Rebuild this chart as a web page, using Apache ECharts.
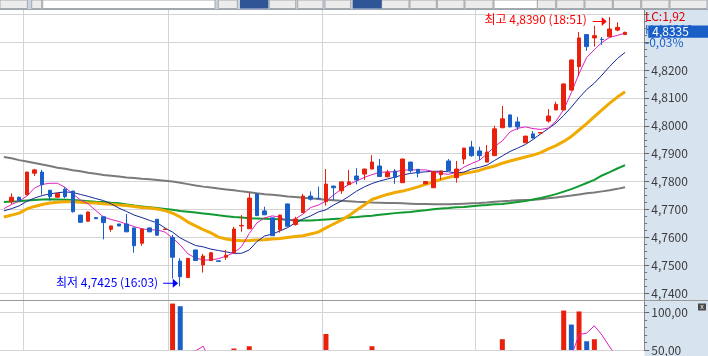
<!DOCTYPE html>
<html><head><meta charset="utf-8">
<script src="https://cdn.jsdelivr.net/npm/echarts@6/dist/echarts.min.js"></script>
<style>html,body{margin:0;padding:0;background:#fff;overflow:hidden}#c{width:708px;height:356px}</style>
</head><body><div id="c"></div>
<script>
const categories = ['14:51','14:54','14:57','15:00','15:03','15:06','15:09','15:12','15:15','15:18','15:21','15:24','15:27','15:30','15:33','15:36','15:39','15:42','15:45','15:48','15:51','15:54',
'16:00','16:03','16:06','16:09','16:12','16:15','16:18','16:21','16:24','16:27','16:30','16:33','16:36','16:39','16:42','16:45','16:48','16:51','16:54','16:57',
'17:00','17:03','17:06','17:09','17:12','17:15','17:18','17:21','17:24','17:27','17:30','17:33','17:36','17:39','17:42','17:45','17:48','17:51','17:54','17:57',
'18:00','18:03','18:06','18:09','18:12','18:15','18:18','18:21','18:24','18:27','18:30','18:33','18:36','18:39','18:42','18:45','18:48','18:51','18:54','18:57','19:00','19:03'];
const hourMarks = ['15:00','16:00','17:00','18:00'];

const opens = [null,
4.7728,4.7744,4.7753,4.7830,4.7834,4.7769,4.7744,4.7773,4.7766,4.7680,
4.7658,4.7671,4.7674,4.7629,4.7648,4.7648,4.7634,4.7579,4.7634,4.7665,
4.7628,4.7600,4.7515,4.7456,4.7555,4.7501,4.7517,4.7516,4.7529,4.7545,
4.7641,4.7631,4.7756,4.7695,4.7670,4.7627,4.7720,4.7646,4.7689,4.7748,
4.7740,4.7728,4.7784,4.7767,4.7789,4.7820,4.7827,4.7845,4.7856,4.7817,
4.7838,4.7796,4.7870,4.7844,4.7792,4.7778,4.7825,4.7874,4.7814,4.7881,
4.7924,4.7910,4.7870,4.7893,4.7993,4.8039,4.8014,4.7939,4.7971,4.7974,
4.8017,4.8057,4.8057,4.8128,4.8212,4.8327,4.8315,4.8310,4.8319,4.8343,
4.8327,null,null];
const closes = [null,
4.7744,4.7731,4.7834,4.7842,4.7789,4.7746,4.7758,4.7746,4.7692,4.7654,
4.7691,4.7667,4.7653,4.7641,4.7641,4.7620,4.7570,4.7630,4.7620,4.7608,
4.7630,4.7529,4.7459,4.7525,4.7517,4.7533,4.7545,4.7514,4.7536,4.7630,
4.7643,4.7741,4.7678,4.7681,4.7606,4.7680,4.7640,4.7666,4.7748,4.7737,
4.7739,4.7791,4.7778,4.7799,4.7799,4.7806,4.7845,4.7870,4.7818,4.7833,
4.7815,4.7881,4.7839,4.7830,4.7800,4.7836,4.7838,4.7839,4.7845,4.7920,
4.7893,4.7893,4.7906,4.7989,4.8025,4.7996,4.7996,4.7963,4.7956,4.7976,
4.8035,4.8077,4.8150,4.8236,4.8315,4.8284,4.8323,4.8309,4.8347,4.8353,
4.8335,null,null];
const lows = [null,
4.7719,4.7729,4.7751,4.7820,4.7753,4.7732,4.7743,4.7740,4.7689,4.7653,
4.7657,4.7666,4.7593,4.7620,4.7640,4.7619,4.7545,4.7570,4.7619,4.7606,
4.7627,4.7453,4.7425,4.7455,4.7516,4.7474,4.7516,4.7514,4.7519,4.7544,
4.7620,4.7630,4.7677,4.7680,4.7605,4.7617,4.7639,4.7642,4.7688,4.7732,
4.7738,4.7714,4.7734,4.7756,4.7788,4.7790,4.7806,4.7844,4.7817,4.7816,
4.7792,4.7795,4.7832,4.7815,4.7791,4.7777,4.7806,4.7838,4.7796,4.7863,
4.7889,4.7877,4.7869,4.7892,4.7992,4.7995,4.7985,4.7938,4.7955,4.7973,
4.8011,4.8056,4.8056,4.8127,4.8178,4.8269,4.8284,4.8290,4.8318,4.8339,
4.8326,null,null];
const highs = [null,
4.7758,4.7746,4.7836,4.7846,4.7842,4.7770,4.7759,4.7780,4.7767,4.7681,
4.7692,4.7672,4.7675,4.7642,4.7649,4.7684,4.7635,4.7631,4.7635,4.7666,
4.7631,4.7609,4.7525,4.7526,4.7556,4.7541,4.7548,4.7516,4.7555,4.7638,
4.7680,4.7760,4.7757,4.7710,4.7671,4.7681,4.7721,4.7674,4.7756,4.7765,
4.7782,4.7845,4.7785,4.7800,4.7842,4.7848,4.7846,4.7895,4.7881,4.7842,
4.7845,4.7882,4.7871,4.7845,4.7801,4.7837,4.7839,4.7881,4.7874,4.7921,
4.7946,4.7925,4.7931,4.8000,4.8071,4.8040,4.8032,4.7964,4.7981,4.7977,
4.8060,4.8086,4.8152,4.8237,4.8336,4.8328,4.8358,4.8318,4.8390,4.8371,
4.8337,null,null];

const ma5 = [4.7703,
4.7718,4.7730,4.7748,4.7777,4.7790,4.7794,4.7794,4.7779,4.7756,4.7734,
4.7720,4.7696,4.7673,4.7664,4.7657,4.7648,4.7639,4.7631,4.7627,4.7627,
4.7619,4.7598,4.7573,4.7541,4.7526,4.7519,4.7519,4.7524,4.7533,4.7545,
4.7567,4.7614,4.7652,4.7670,4.7677,4.7673,4.7657,4.7666,4.7684,4.7707,
4.7716,4.7730,4.7752,4.7773,4.7790,4.7802,4.7815,4.7825,4.7833,4.7835,
4.7835,4.7841,4.7842,4.7842,4.7842,4.7836,4.7829,4.7826,4.7833,4.7852,
4.7865,4.7876,4.7899,4.7926,4.7946,4.7978,4.7991,4.7996,4.7990,4.7987,
4.7992,4.8017,4.8058,4.8119,4.8187,4.8245,4.8273,4.8299,4.8317,4.8324,
4.8332];
const ma10 = [4.7695,
4.7703,4.7713,4.7729,4.7741,4.7750,4.7756,4.7760,4.7763,4.7761,4.7754,
4.7747,4.7739,4.7732,4.7720,4.7705,4.7693,4.7680,4.7671,4.7661,4.7652,
4.7634,4.7619,4.7598,4.7584,4.7571,4.7566,4.7558,4.7553,4.7548,4.7543,
4.7543,4.7555,4.7585,4.7605,4.7612,4.7623,4.7635,4.7652,4.7666,4.7677,
4.7691,4.7699,4.7716,4.7730,4.7747,4.7766,4.7781,4.7793,4.7802,4.7809,
4.7816,4.7824,4.7829,4.7833,4.7835,4.7837,4.7837,4.7835,4.7831,4.7834,
4.7845,4.7851,4.7859,4.7876,4.7892,4.7908,4.7920,4.7933,4.7951,4.7971,
4.7990,4.8010,4.8037,4.8067,4.8100,4.8130,4.8153,4.8182,4.8213,4.8241,
4.8263];
const ma20 = [4.7673,
4.7680,4.7687,4.7702,4.7711,4.7718,4.7723,4.7726,4.7728,4.7728,4.7726,
4.7724,4.7723,4.7721,4.7719,4.7716,4.7714,4.7711,4.7707,4.7705,4.7702,
4.7696,4.7687,4.7673,4.7655,4.7641,4.7628,4.7616,4.7601,4.7594,4.7590,
4.7588,4.7589,4.7591,4.7592,4.7594,4.7596,4.7600,4.7603,4.7606,4.7612,
4.7619,4.7634,4.7648,4.7662,4.7678,4.7698,4.7716,4.7736,4.7745,4.7754,
4.7761,4.7766,4.7773,4.7781,4.7790,4.7799,4.7808,4.7815,4.7822,4.7829,
4.7834,4.7840,4.7849,4.7856,4.7866,4.7874,4.7881,4.7888,4.7895,4.7904,
4.7917,4.7929,4.7944,4.7962,4.7985,4.8008,4.8033,4.8057,4.8081,4.8103,
4.8122];
const ma60 = [4.7727,
4.7729,4.7730,4.7732,4.7734,4.7736,4.7737,4.7736,4.7735,4.7734,4.7732,
4.7730,4.7728,4.7727,4.7724,4.7722,4.7718,4.7714,4.7711,4.7708,4.7705,
4.7702,4.7699,4.7695,4.7692,4.7689,4.7686,4.7683,4.7679,4.7676,4.7673,
4.7671,4.7669,4.7668,4.7667,4.7666,4.7665,4.7663,4.7661,4.7661,4.7661,
4.7662,4.7664,4.7666,4.7668,4.7671,4.7673,4.7676,4.7678,4.7681,4.7684,
4.7687,4.7689,4.7691,4.7695,4.7697,4.7701,4.7704,4.7705,4.7708,4.7709,
4.7712,4.7714,4.7716,4.7719,4.7720,4.7723,4.7727,4.7730,4.7736,4.7741,
4.7748,4.7755,4.7764,4.7773,4.7784,4.7795,4.7806,4.7822,4.7834,4.7847,
4.7859];
const ma120 = [4.7888,
4.7884,4.7877,4.7872,4.7867,4.7861,4.7856,4.7850,4.7846,4.7841,4.7837,
4.7832,4.7828,4.7824,4.7821,4.7818,4.7815,4.7813,4.7810,4.7808,4.7806,
4.7803,4.7800,4.7796,4.7791,4.7786,4.7782,4.7779,4.7775,4.7772,4.7769,
4.7765,4.7762,4.7758,4.7755,4.7753,4.7750,4.7747,4.7745,4.7742,4.7740,
4.7738,4.7735,4.7733,4.7731,4.7730,4.7728,4.7727,4.7725,4.7724,4.7723,
4.7723,4.7722,4.7721,4.7720,4.7720,4.7719,4.7719,4.7719,4.7720,4.7721,
4.7722,4.7723,4.7725,4.7728,4.7730,4.7731,4.7733,4.7734,4.7735,4.7737,
4.7740,4.7743,4.7747,4.7750,4.7754,4.7758,4.7761,4.7765,4.7769,4.7774,
4.7780];

const volumes = [null,
18,12,40,15,30,14,10,16,35,20,
22,8,25,12,9,20,38,30,10,28,
15,112,108.5,10,12,20,18,8,15,52,
20,55,42,14,35,30,38,16,40,18,
20,71.4,25,30,22,28,26,55,40,18,
24,44,26,15,10,38,20,30,28,45,
35,22,30,46,64.4,38,24,20,14,8,
26,30,102.7,84,101.5,61.7,64.4,37,5.5,20,
12,null,null];
const volMA = [30,
28,25,26,25,24,22,20,17,18,20,
21,20,22,17,15,16,21,26,25,25,
21,40,45,46,49,55,33,20,15,21,
22,32,37,37,35,35,32,27,32,28,
26,33,35,33,34,35,26,32,34,33,
33,36,30,25,24,23,22,23,25,32,
34,32,32,36,40,39,40,38,32,21,
18,20,36,42,70.6,72.5,82.4,69.8,54.1,40,
30];

const yTicks = {min: 4.74, max: 4.84, step: 0.01};
const volTicks = {min: 50, max: 116.8, step: 50};

const RED = '#e8200c', BLUE = '#1a5fc8';
const LEFT = -4.26, WIDTH = 84 * 7.72;
const FONT = 'Noto Sans CJK KR';

const candleData = categories.map((c, i) => opens[i] == null ? '-' : [opens[i], closes[i], lows[i], highs[i]]);
const hiIdx = highs.indexOf(Math.max(...highs.filter(v => v != null)));
const loIdx = lows.indexOf(Math.min(...lows.filter(v => v != null)));
const lastIdx = closes.reduce((a, v, i) => v != null ? i : a, 0);
const fmt4 = v => v.toFixed(4).replace('.', ',');

const arrowPath = 'path://M0,4.4 L9,4.4 L9,0 L14,5 L9,10 L9,5.6 L0,5.6 Z';

const chart = echarts.init(document.getElementById('c'), null, {renderer: 'canvas'});
const hourSplit = {show: true, interval: (i, v) => hourMarks.includes(v), lineStyle: {color: '#d4d4d4', width: 1}};

chart.setOption({
  animation: false,
  backgroundColor: '#ffffff',
  grid: [
    {left: LEFT, width: WIDTH, top: 10, height: 290},
    {left: LEFT, width: WIDTH, top: 14.2, height: 279},
    {left: LEFT, width: WIDTH, top: 300, height: 56}
  ],
  xAxis: [
    {gridIndex: 0, type: 'category', data: categories, boundaryGap: true, axisLine: {show: false}, axisTick: {show: false}, axisLabel: {show: false}, splitLine: hourSplit},
    {gridIndex: 1, type: 'category', data: categories, boundaryGap: true, show: false},
    {gridIndex: 2, type: 'category', data: categories, boundaryGap: true, axisLine: {show: false}, axisTick: {show: false}, axisLabel: {show: false}, splitLine: hourSplit}
  ],
  yAxis: [
    {gridIndex: 0, type: 'value', position: 'right', min: 0, max: 1, axisLine: {show: true, lineStyle: {color: '#8a8a8a'}}, axisTick: {show: false}, axisLabel: {show: false}, splitLine: {show: false}},
    {gridIndex: 1, type: 'value', position: 'right', min: yTicks.min, max: yTicks.max, interval: yTicks.step,
      axisLine: {show: false},
      axisTick: {show: true, inside: false, length: 5, lineStyle: {color: '#666'}},
      minorTick: {show: true, splitNumber: 4, length: 3, lineStyle: {color: '#777'}},
      axisLabel: {margin: 7, color: '#3c3c3c', fontSize: 12, fontFamily: FONT, formatter: v => v > 4.825 ? '' : fmt4(v)},
      splitLine: {show: true, lineStyle: {color: '#d4d4d4', width: 1}}},
    {gridIndex: 2, type: 'value', position: 'right', min: volTicks.min, max: volTicks.max, interval: volTicks.step,
      axisLine: {show: true, lineStyle: {color: '#8a8a8a'}},
      axisTick: {show: true, length: 5, lineStyle: {color: '#666'}},
      minorTick: {show: true, splitNumber: 5, length: 3, lineStyle: {color: '#777'}},
      axisLabel: {margin: 7, color: '#3c3c3c', fontSize: 12, fontFamily: FONT, formatter: v => (Math.abs(v % 50) < 1e-6) ? v.toFixed(2).replace('.', ',') : ''},
      splitLine: {show: true, lineStyle: {color: '#d4d4d4', width: 1}}}
  ],
  series: [
    {type: 'line', xAxisIndex: 1, yAxisIndex: 1, data: ma120, showSymbol: false, lineStyle: {color: '#7a7a7a', width: 2}, z: 2},
    {type: 'line', xAxisIndex: 1, yAxisIndex: 1, data: ma60, showSymbol: false, lineStyle: {color: '#109a30', width: 2}, z: 2},
    {type: 'line', xAxisIndex: 1, yAxisIndex: 1, data: ma20, showSymbol: false, lineStyle: {color: '#f0aa00', width: 3}, z: 2},
    {type: 'line', xAxisIndex: 1, yAxisIndex: 1, data: ma10, showSymbol: false, lineStyle: {color: '#16289a', width: 1}, z: 2},
    {type: 'line', xAxisIndex: 1, yAxisIndex: 1, data: ma5, showSymbol: false, lineStyle: {color: '#e020c0', width: 1}, z: 2},
    {type: 'candlestick', xAxisIndex: 1, yAxisIndex: 1, data: candleData, barWidth: 4, z: 3,
      itemStyle: {color: RED, color0: BLUE, borderColor: RED, borderColor0: BLUE, borderWidth: 1},
      markPoint: {
        silent: true, animation: false,
        data: [
          {coord: [categories[hiIdx], highs[hiIdx]], symbol: arrowPath, symbolSize: [14, 9], symbolOffset: [-10, 4.5],
            itemStyle: {color: '#ff0000'},
            label: {show: true, position: 'left', distance: 6, offset: [0, -2.5], color: '#ff0000', fontSize: 12, fontFamily: FONT,
              formatter: '최고 ' + fmt4(highs[hiIdx]) + ' (' + categories[hiIdx] + ')'}},
          {coord: [categories[loIdx], lows[loIdx]], symbol: arrowPath, symbolSize: [15, 9], symbolOffset: [-9.6, -2.9],
            itemStyle: {color: '#0000ff'},
            label: {show: true, position: 'left', distance: 5, offset: [0, -0.8], color: '#0000ff', fontSize: 12, fontFamily: FONT,
              formatter: '최저 ' + fmt4(lows[loIdx]) + ' (' + categories[loIdx] + ')'}}
        ]
      },
      markLine: {
        silent: true, symbol: ['none', 'none'], animation: false,
        lineStyle: {color: 'rgba(0,0,0,0)', width: 1, type: 'solid'},
        data: [{yAxis: closes[lastIdx]}],
        label: {show: true, position: 'end', distance: 4, offset: [0, -10.5],
          formatter: fmt4(closes[lastIdx]),
          color: '#ffffff', backgroundColor: BLUE, padding: [0, 20, 0, 4], lineHeight: 12.3, height: 12.3, fontSize: 12, fontFamily: FONT}
      }
    },
    {type: 'bar', xAxisIndex: 2, yAxisIndex: 2, data: volumes, barWidth: 5, z: 3,
      itemStyle: {color: p => (p.dataIndex > 0 && volumes[p.dataIndex - 1] != null && volumes[p.dataIndex] < volumes[p.dataIndex - 1]) ? BLUE : RED}},
    {type: 'line', xAxisIndex: 2, yAxisIndex: 2, data: volMA, showSymbol: false, lineStyle: {color: '#e020c0', width: 1}, z: 4}
  ],
  graphic: [
    {type: 'rect', shape: {x: 644.5, y: 10, width: 64, height: 346}, style: {fill: '#d8e3f0'}, z: -1, silent: true},
    {type: 'rect', shape: {x: 0, y: 0, width: 708, height: 10}, style: {fill: '#c9d4e3'}, z: 100},
    ...[[0,28.3],[31.7,42.7],[218.3,238.3],[269.3,296.7],[297.7,324],[325,351.7],[381.7,410],[410,437.3],[437.3,465],[465,494],[537.3,556.7],[556.7,585],[585,613.3],[613.3,641.7],[641.7,670],[670,708]].map(t =>
      ({type: 'rect', shape: {x: t[0], y: 0, width: t[1] - t[0] - 1, height: 8.5}, style: {fill: '#ececec', stroke: '#a9a9a9', lineWidth: 1}, z: 101})),
    ...[[42.7,215],[494,537.3]].map(t =>
      ({type: 'rect', shape: {x: t[0], y: 0, width: t[1] - t[0], height: 8.5}, style: {fill: '#ffffff', stroke: '#a9a9a9', lineWidth: 1}, z: 101})),
    ...[[240,268.3],[352.7,381.7]].map(t =>
      ({type: 'rect', shape: {x: t[0], y: 0, width: t[1] - t[0], height: 8.5}, style: {fill: '#2f5597'}, z: 101})),
    {type: 'line', shape: {x1: 0, y1: 9.5, x2: 708, y2: 9.5}, style: {stroke: '#9aa6b6', lineWidth: 1}, z: 102},
    {type: 'line', shape: {x1: 0, y1: 300.5, x2: 708, y2: 300.5}, style: {stroke: '#9a9a9a', lineWidth: 1}, z: 50},
    {type: 'text', x: 645, y: 16.5, style: {text: 'LC:1,92', fill: '#e00000', font: '12px "' + FONT + '"', textVerticalAlign: 'middle'}, z: 50},
    {type: 'text', x: 645, y: 29, style: {text: 'H 4,8390', fill: BLUE, font: '12px "' + FONT + '"', textVerticalAlign: 'middle'}, z: 0},
    {type: 'text', x: 645, y: 42.5, style: {text: '-0,03%', fill: BLUE, font: '12px "' + FONT + '"', textVerticalAlign: 'middle'}, z: 50},
    {type: 'rect', shape: {x: 698, y: 303.5, width: 8, height: 7}, style: {fill: '#4a4a4a'}, z: 50},
    {type: 'text', x: 702, y: 307, style: {text: 'x', fill: '#ffffff', font: '7px sans-serif', textAlign: 'center', textVerticalAlign: 'middle'}, z: 51}
  ]
});
</script></body></html>
